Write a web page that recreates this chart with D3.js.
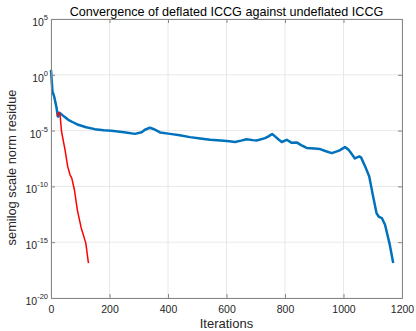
<!DOCTYPE html>
<html><head><meta charset="utf-8">
<script src="https://cdn.jsdelivr.net/npm/d3@7"></script>
<style>body{margin:0;background:#fff}svg{display:block}text{font-family:"Liberation Sans",Arial,sans-serif}</style>
</head><body><svg id="c" width="416" height="331"></svg>
<script>
const titleText = "Convergence of deflated ICCG against undeflated ICCG";
const xLabelText = "Iterations";
const yLabelText = "semilog scale norm residue";
const xTicks = [0, 200, 400, 600, 800, 1000, 1200];
const yTickExps = [5, 0, -5, -10, -15, -20];

const undeflatedIter = [0,5,11,19,23,25,28,31,45,59,75,93,120,150,180,207,250,287,310,321,338,350,373,407,440,475,510,544,580,610,629,650,669,690,703,732,745,756,765,777,789,806,823,840,855,874,900,920,940,960,985,1005,1015,1022,1039,1054,1060,1074,1088,1099,1113,1120,1131,1142,1157,1170];
const undeflatedRes = [2.8,3.2e-2,1.1e-2,1.1e-3,1.9e-4,1.8e-4,4e-4,3.7e-4,1.8e-4,9.3e-5,5.6e-5,3.3e-5,2.0e-5,1.35e-5,1.1e-5,9.5e-6,7.1e-6,5.1e-6,7.1e-6,1.2e-5,1.8e-5,1.4e-5,6.8e-6,5.1e-6,3.8e-6,2.6e-6,2.0e-6,1.5e-6,1.3e-6,1.1e-6,9.5e-7,1.26e-6,1.7e-6,1.4e-6,1.3e-6,2.1e-6,3.2e-6,5.0e-6,3.2e-6,1.7e-6,9.5e-7,1.5e-6,8e-7,8.7e-7,5e-7,2.8e-7,2.5e-7,2.2e-7,1.4e-7,9.5e-8,1.6e-7,3.3e-7,2.2e-7,1.35e-7,3.2e-8,4.8e-8,4e-8,6.2e-9,7.8e-10,2.5e-11,4e-13,2e-13,1.45e-13,3.6e-14,8.3e-16,1.35e-17];

const deflatedIter = [22,25,31,36,48,57,65,71,80,90,103,110,119,128];
const deflatedRes = [2e-4,4.2e-4,2.6e-4,8.3e-6,1.9e-7,6.2e-9,1.1e-9,5.5e-10,5e-11,8e-13,2e-14,5e-15,8.3e-16,1.35e-17];

const svg = d3.select("#c");
const m = {l:51, r:402, t:19, b:298};
const x = d3.scaleLinear().domain([0,1200]).range([m.l, m.r]);
const y = d3.scaleLog().domain([1e-20, 1e5]).range([m.b, m.t]);
const axisCol = "#868686", gridCol = "#e8e8e8", textCol = "#262626";

// grid
svg.append("g").selectAll("line").data(xTicks).join("line")
  .attr("x1", d=>x(d)).attr("x2", d=>x(d)).attr("y1", m.t).attr("y2", m.b)
  .attr("stroke", gridCol).attr("stroke-width", 1);
svg.append("g").selectAll("line").data(yTickExps).join("line")
  .attr("y1", d=>y(Math.pow(10,d))).attr("y2", d=>y(Math.pow(10,d))).attr("x1", m.l).attr("x2", m.r)
  .attr("stroke", gridCol).attr("stroke-width", 1);

// lines
const line = (xs, ys) => d3.line().x((d,i)=>x(xs[i])).y((d,i)=>y(ys[i]))(xs);
svg.append("path").attr("d", line(undeflatedIter, undeflatedRes))
  .attr("fill","none").attr("stroke","#0072BD").attr("stroke-width",2.5).attr("stroke-linejoin","round");
svg.append("path").attr("d", line(deflatedIter, deflatedRes))
  .attr("fill","none").attr("stroke","#FF0000").attr("stroke-width",1.5).attr("stroke-linejoin","round");

// axes
const xb = d3.axisBottom(x).tickValues(xTicks).tickSize(-4).tickFormat(d3.format("d"));
const xt = d3.axisTop(x).tickValues(xTicks).tickSize(-4).tickFormat("");
const yl = d3.axisLeft(y).tickValues(yTickExps.map(e=>Math.pow(10,e))).tickSize(-4).tickFormat("");
const yr = d3.axisRight(y).tickValues(yTickExps.map(e=>Math.pow(10,e))).tickSize(-4).tickFormat("");
const gx = svg.append("g").attr("transform",`translate(0,${m.b})`).call(xb);
svg.append("g").attr("transform",`translate(0,${m.t})`).call(xt);
svg.append("g").attr("transform",`translate(${m.l},0)`).call(yl);
svg.append("g").attr("transform",`translate(${m.r},0)`).call(yr);
svg.selectAll(".domain").attr("stroke", axisCol);
svg.selectAll(".tick line").attr("stroke", axisCol);
gx.selectAll("text").attr("fill", textCol).attr("font-size", 10.5)
  .attr("font-family","Liberation Sans, Arial, sans-serif").attr("y", 15).attr("dy", 0);

// y tick labels with superscripts
const yl2 = svg.append("g");
yTickExps.forEach(e => {
  const t = yl2.append("text").attr("x", 48).attr("y", y(Math.pow(10,e)) + 7)
    .attr("text-anchor","end").attr("fill", textCol).attr("font-size", 10.5);
  t.append("tspan").text("10");
  t.append("tspan").attr("dy", -6).attr("font-size", 7.5).text(String(e));
});

// title and labels
svg.append("text").attr("x", (m.l+m.r)/2).attr("y", 16).attr("text-anchor","middle")
  .attr("fill", "#000").attr("font-size", 12.6).text(titleText);
svg.append("text").attr("x", (m.l+m.r)/2).attr("y", 328).attr("text-anchor","middle")
  .attr("fill", textCol).attr("font-size", 13).text(xLabelText);
svg.append("text").attr("transform", `translate(16,${(m.t+m.b)/2 + 9}) rotate(-90)`).attr("text-anchor","middle")
  .attr("fill", textCol).attr("font-size", 12.8).text(yLabelText);
</script></body></html>
